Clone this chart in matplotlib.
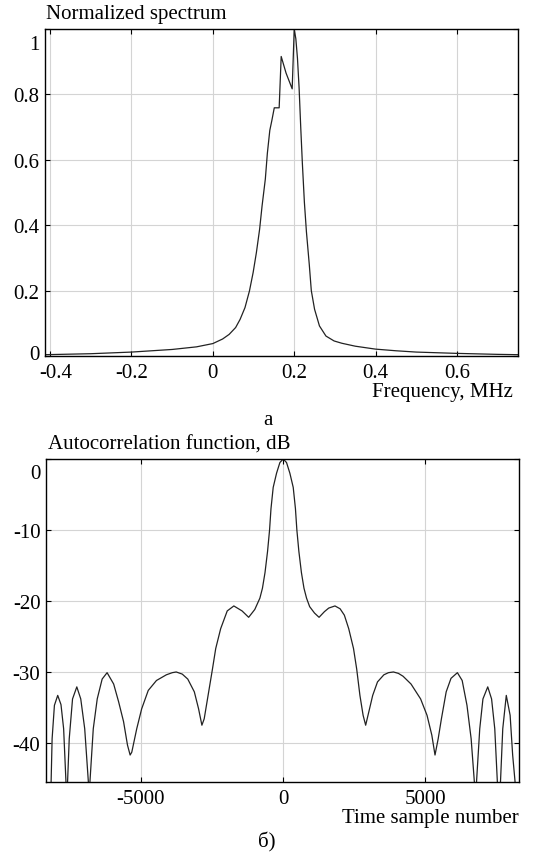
# Spectrum and autocorrelation, two panels
import numpy as np
import matplotlib.pyplot as plt
from matplotlib.transforms import ScaledTranslation

plt.rcParams['font.family'] = ['Liberation Serif', 'DejaVu Serif']
plt.rcParams['axes.unicode_minus'] = False

# normalized spectrum
freq = [-0.4125, -0.3, -0.2, -0.1, -0.04, 0.0, 0.024, 0.04, 0.056, 0.067, 0.079,
        0.09, 0.099, 0.107, 0.115, 0.121, 0.129, 0.134, 0.14, 0.145, 0.151,
        0.163, 0.168, 0.18, 0.195, 0.2, 0.204, 0.208, 0.212, 0.216, 0.22,
        0.225, 0.23, 0.237, 0.242, 0.25, 0.262, 0.278, 0.298, 0.317, 0.35,
        0.4, 0.45, 0.5, 0.6, 0.7, 0.75]
spec = [0.004, 0.007, 0.012, 0.02, 0.028, 0.038, 0.052, 0.066, 0.087, 0.112, 0.148,
        0.199, 0.255, 0.316, 0.388, 0.459, 0.541, 0.62, 0.69, 0.72, 0.759,
        0.759, 0.916, 0.865, 0.817, 1.0, 0.97, 0.91, 0.82, 0.70, 0.59,
        0.47, 0.38, 0.28, 0.2, 0.143, 0.092, 0.061, 0.046, 0.039, 0.03,
        0.021, 0.016, 0.012, 0.008, 0.005, 0.004]

# autocorrelation, left half
n_left = [-8340, -8200, -8160, -8125, -8044, -7928, -7813, -7720, -7639, -7600,
          -7581, -7523, -7407, -7257, -7118, -6979, -6852, -6820, -6794, -6678,
          -6539, -6366, -6192, -5961, -5787, -5613, -5475, -5382, -5324, -5150,
          -4977, -4745, -4456, -4109, -3900, -3762, -3550, -3356, -3125, -2975,
          -2859, -2778, -2662, -2488, -2373, -2199, -1968, -1736, -1447, -1215,
          -1000, -820, -730, -640, -550, -480, -430, -352, -234, -117, 0]
acf_left = [-55, -50, -45.4, -39.4, -34.7, -33.3, -34.6, -38.0, -45.4, -50,
            -45.4, -39.4, -33.8, -32.1, -33.8, -38.0, -45.4, -50, -45.4, -38.0,
            -33.8, -31.0, -30.1, -31.7, -34.2, -37.0, -40.3, -41.7, -41.3, -38.0,
            -35.2, -32.6, -31.2, -30.4, -30.1, -30.0, -30.3, -31.0, -32.8, -35.2,
            -37.5, -36.6, -33.8, -29.6, -26.7, -23.9, -21.4, -20.7, -21.4, -22.3,
            -21.2, -19.6, -18.2, -16.0, -13.0, -10.0, -7.0, -4.0, -2.0, -0.5, 0]
# autocorrelation, right half
n_right = [117, 234, 352, 430, 480, 550, 640, 730, 820, 930, 1100, 1260, 1450,
           1600, 1820, 2000, 2150, 2303, 2472, 2584, 2697, 2809, 2899, 3011,
           3146, 3315, 3539, 3700, 3876, 4050, 4213, 4494, 4831, 5056, 5225,
           5337, 5449, 5562, 5730, 5899, 6124, 6292, 6461, 6607, 6719, 6760,
           6798, 6910, 7022, 7191, 7326, 7438, 7528, 7585, 7640, 7719, 7843,
           7978, 8067, 8150, 8200, 8290]
acf_right = [-0.5, -2.0, -4.0, -7.0, -10.0, -13.0, -16.0, -18.2, -19.6, -20.8,
             -21.7, -22.3, -21.5, -21.0, -20.7, -21.1, -22.0, -23.9, -26.7, -29.6,
             -33.3, -36.1, -37.5, -35.6, -33.3, -31.4, -30.4, -30.1, -30.0, -30.2,
             -30.6, -31.7, -33.8, -36.1, -38.9, -41.7, -39.4, -36.6, -32.8, -30.9,
             -30.1, -31.2, -34.7, -39.4, -45.4, -50, -45.4, -38.0, -33.8, -32.1,
             -33.8, -38.0, -45.4, -50, -45.4, -38.0, -33.3, -36.1, -41.7, -45.4,
             -50, -55]

fx_ticks = [-0.4, -0.2, 0, 0.2, 0.4, 0.6]
fx_labels = ['-0.4', '-0.2', '0', '0.2', '0.4', '0.6']
fy_ticks = [0, 0.2, 0.4, 0.6, 0.8, 1]
fy_labels = ['0', '0.2', '0.4', '0.6', '0.8', '1']
tx_ticks = [-5000, 0, 5000]
tx_labels = ['-5000', '0', '5000']
ty_ticks = [-40, -30, -20, -10, 0]
ty_labels = ['-40', '-30', '-20', '-10', '0']

W, H = 533, 854
fs = 15
fig = plt.figure(figsize=(W / 100, H / 100), dpi=100)

def setup(ax):
    ax.grid(True, color='#d4d4d4', lw=0.8)
    ax.set_axisbelow(True)
    ax.tick_params(direction='in', length=3.5, width=0.8, labelsize=fs,
                   top=True, right=True, pad=4, colors='black')
    ax.tick_params(axis='x', pad=5)
    for s in ax.spines.values():
        s.set_linewidth(1.0)

def shift_label(axis, idx, dx, dy):
    t = axis.get_major_ticks()[idx]
    t.label1.set_transform(t.label1.get_transform()
                           + ScaledTranslation(dx / 100, dy / 100, fig.dpi_scale_trans))

# top panel
ax1 = fig.add_axes([45 / W, 1 - 357 / H, 473 / W, 327 / H])
ax1.plot(freq, spec, color='#222222', lw=0.9)
ax1.set_xlim(-0.4125, 0.75)
ax1.set_ylim(0, 1.0)
ax1.set_xticks(fx_ticks)
ax1.set_xticklabels(fx_labels)
ax1.set_yticks(fy_ticks)
ax1.set_yticklabels(fy_labels)
setup(ax1)
shift_label(ax1.yaxis, -1, 0, -13)
shift_label(ax1.yaxis, 0, 0, 4)
shift_label(ax1.xaxis, 0, 6, 0)

# bottom panel
ax2 = fig.add_axes([46 / W, 1 - 783 / H, 473 / W, 323 / H])
ax2.plot(n_left + n_right, acf_left + acf_right, color='#222222', lw=0.9)
ax2.set_xlim(-8340, 8290)
ax2.set_ylim(-45.5, 0)
ax2.set_xticks(tx_ticks)
ax2.set_xticklabels(tx_labels)
ax2.set_yticks(ty_ticks)
ax2.set_yticklabels(ty_labels)
setup(ax2)
shift_label(ax2.yaxis, -1, 0, -12)

# texts
fig.text(46 / W, 1 - 15 / H, 'Normalized spectrum', fontsize=fs, va='center')
fig.text(513 / W, 1 - 393 / H, 'Frequency, MHz', fontsize=fs, va='center', ha='right')
fig.text(268 / W, 1 - 421 / H, 'а', fontsize=fs, va='center', ha='center')
fig.text(48 / W, 1 - 445 / H, 'Autocorrelation function, dB', fontsize=fs, va='center')
fig.text(519 / W, 1 - 819 / H, 'Time sample number', fontsize=fs, va='center', ha='right')
fig.text(267 / W, 1 - 842 / H, 'б)', fontsize=fs, va='center', ha='center')

plt.savefig('out.png', dpi=100)
